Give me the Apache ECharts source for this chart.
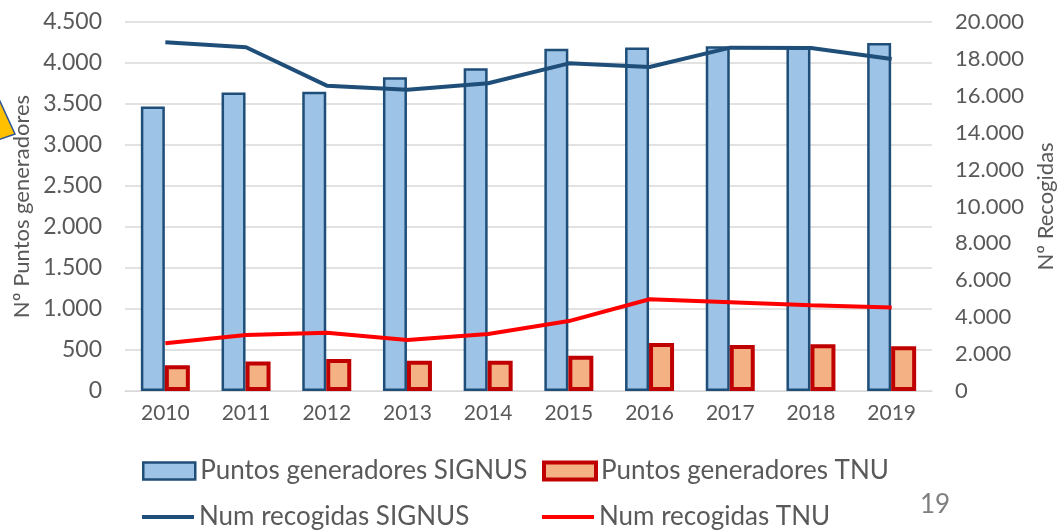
<!DOCTYPE html>
<html>
<head>
<meta charset="utf-8">
<script src="https://cdn.jsdelivr.net/npm/echarts@6/dist/echarts.min.js"></script>
<style>
  html, body { margin: 0; padding: 0; background: #fff; }
  #main { width: 1058px; height: 530px; }
</style>
</head>
<body>
<div id="main"></div>
<script>
  // datos
  var years = ['2010', '2011', '2012', '2013', '2014', '2015', '2016', '2017', '2018', '2019'];
  var puntosSignus = [3470, 3640, 3650, 3825, 3935, 4175, 4190, 4205, 4195, 4245];
  var puntosTnu = [315, 360, 390, 370, 370, 430, 585, 560, 570, 545];
  var recogidasSignus = [18900, 18630, 16550, 16330, 16680, 17760, 17560, 18610, 18590, 17990];
  var recogidasTnu = [2590, 3040, 3160, 2760, 3090, 3790, 4970, 4810, 4650, 4520];

  var FONT = 'Lato';
  var GREY = '#595959';

  function miles(v) {
    return String(v).replace(/\B(?=(\d{3})+(?!\d))/g, '.');
  }

  var chart = echarts.init(document.getElementById('main'));

  var legendBase = {
    orient: 'horizontal',
    icon: 'rect',
    itemWidth: 52,
    itemHeight: 17,
    itemGap: 6,
    padding: 0,
    selectedMode: false,
    textStyle: { fontFamily: FONT, fontSize: 26, color: GREY }
  };

  var option = {
    backgroundColor: '#fff',
    animation: false,
    grid: { left: 125, right: 126, top: 22, bottom: 139, outerBoundsMode: 'none', containLabel: false },
    legend: [
      Object.assign({}, legendBase, {
        data: ['Puntos generadores SIGNUS'], left: 142, top: 458,
        itemStyle: { borderColor: '#1F4E79', borderWidth: 2.5 }
      }),
      Object.assign({}, legendBase, {
        data: ['Puntos generadores TNU'], left: 542, top: 458,
        itemStyle: { borderColor: '#C00000', borderWidth: 4 }
      }),
      Object.assign({}, legendBase, {
        data: ['Num recogidas SIGNUS'], left: 142, top: 504, itemHeight: 4
      }),
      Object.assign({}, legendBase, {
        data: ['Num recogidas TNU'], left: 542, top: 504, itemHeight: 4
      })
    ],
    xAxis: {
      type: 'category',
      data: years,
      axisLine: { show: true, lineStyle: { color: '#D9D9D9', width: 1 } },
      axisTick: { show: false },
      axisLabel: { color: GREY, fontFamily: FONT, fontSize: 21, margin: 12 }
    },
    yAxis: [
      {
        type: 'value',
        min: 0,
        max: 4500,
        interval: 500,
        name: 'Nº Puntos generadores',
        nameLocation: 'middle',
        nameGap: 92,
        nameRotate: 90,
        nameMoveOverlap: false,
        nameTextStyle: { color: GREY, fontFamily: FONT, fontSize: 22 },
        axisLine: { show: false },
        axisTick: { show: false },
        axisLabel: { color: GREY, fontFamily: FONT, fontSize: 23, margin: 23, formatter: miles },
        splitLine: { lineStyle: { color: '#D9D9D9', width: 1.5 } }
      },
      {
        type: 'value',
        min: 0,
        max: 20000,
        interval: 2000,
        position: 'right',
        name: 'Nº Recogidas',
        nameLocation: 'middle',
        nameGap: 98,
        nameRotate: 90,
        nameTextStyle: { color: GREY, fontFamily: FONT, fontSize: 22 },
        axisLine: { show: false },
        axisTick: { show: false },
        axisLabel: { color: GREY, fontFamily: FONT, fontSize: 22, margin: 23, formatter: miles },
        splitLine: { show: false }
      }
    ],
    series: [
      {
        name: 'Puntos generadores SIGNUS',
        type: 'bar',
        yAxisIndex: 0,
        barWidth: 24,
        barGap: '0%',
        data: puntosSignus,
        itemStyle: { color: '#9DC3E6', borderColor: '#1F4E79', borderWidth: 2.5 }
      },
      {
        name: 'Puntos generadores TNU',
        type: 'bar',
        yAxisIndex: 0,
        barWidth: 25,
        data: puntosTnu,
        itemStyle: { color: '#F4B183', borderColor: '#C00000', borderWidth: 4 }
      },
      {
        name: 'Num recogidas SIGNUS',
        type: 'line',
        yAxisIndex: 1,
        symbol: 'none',
        data: recogidasSignus,
        z: 5,
        itemStyle: { color: '#1F4E79' },
        lineStyle: { color: '#1F4E79', width: 4 }
      },
      {
        name: 'Num recogidas TNU',
        type: 'line',
        yAxisIndex: 1,
        symbol: 'none',
        data: recogidasTnu,
        z: 5,
        itemStyle: { color: '#FF0000' },
        lineStyle: { color: '#FF0000', width: 4 }
      }
    ],
    graphic: [
      {
        type: 'polygon',
        shape: { points: [[-2, 97], [15, 134], [-2, 140]] },
        style: { fill: '#FFC000', stroke: '#2F5597', lineWidth: 1.5 }
      },
      {
        type: 'text',
        left: 920,
        top: 492,
        style: { text: '19', fontFamily: FONT, fontSize: 26, fill: '#7F7F7F' }
      }
    ]
  };

  chart.setOption(option);
</script>
</body>
</html>
